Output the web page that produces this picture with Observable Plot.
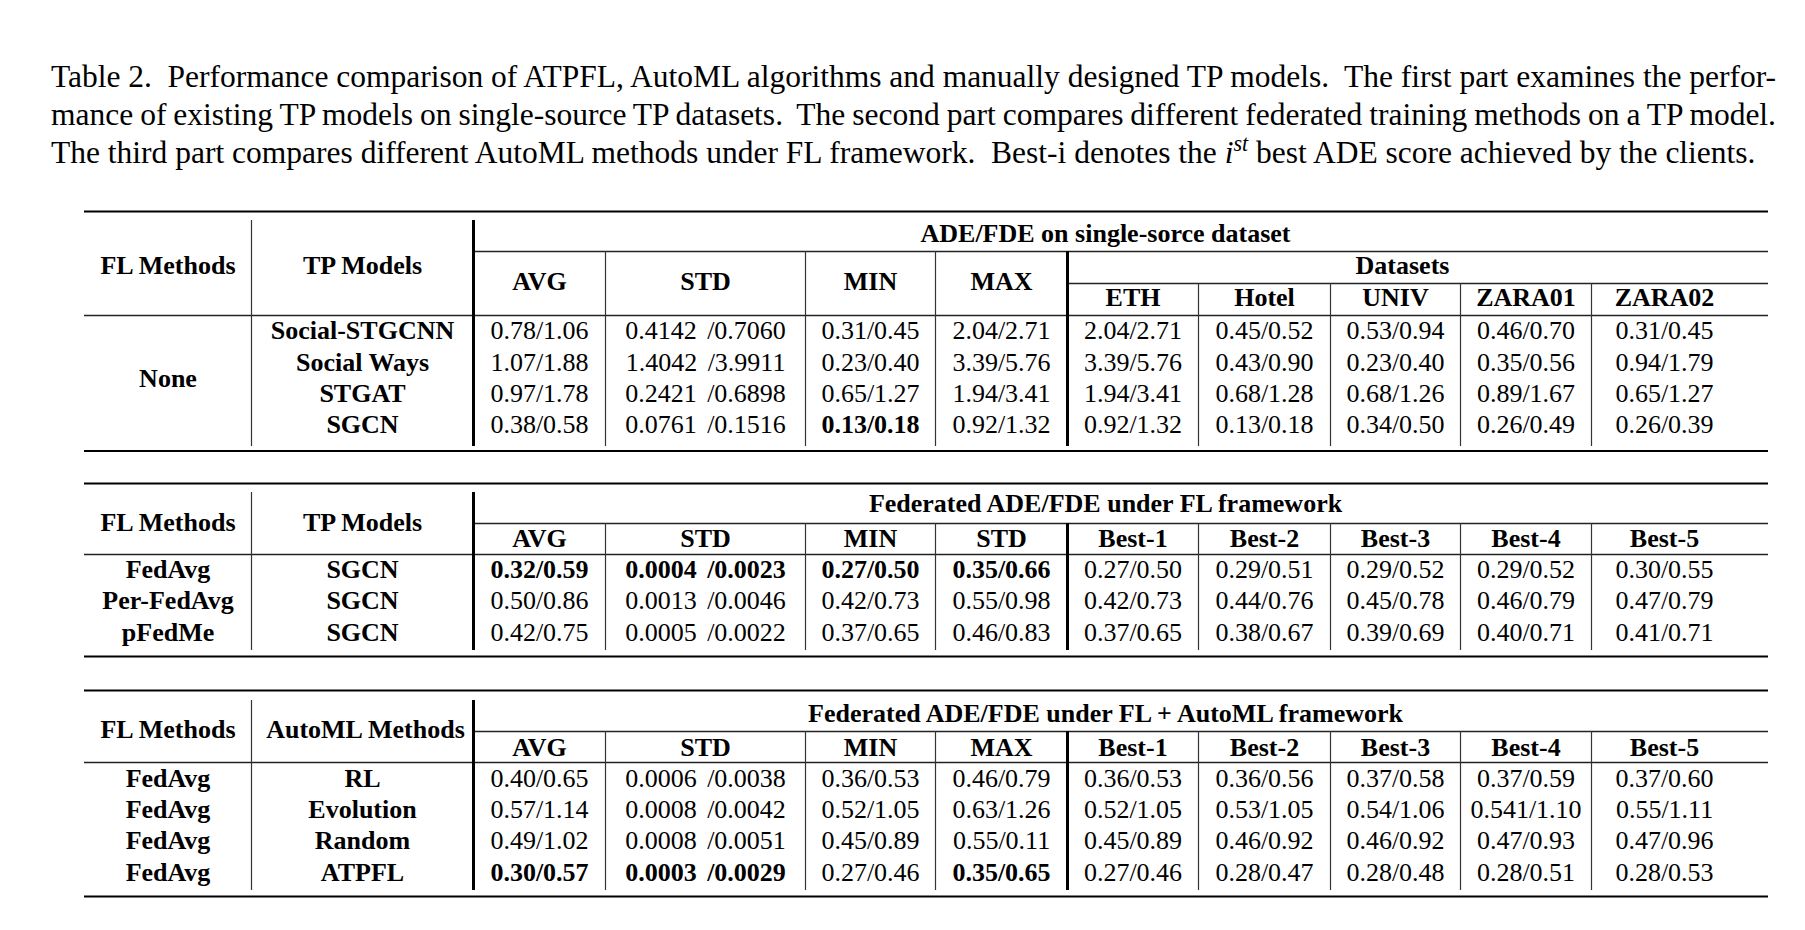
<!DOCTYPE html>
<html>
<head>
<meta charset="utf-8">
<script src="https://cdn.jsdelivr.net/npm/d3@7"></script>
<script src="https://cdn.jsdelivr.net/npm/@observablehq/plot@0.6"></script>
<style>
  html, body { margin: 0; padding: 0; background: #fff; }
  #caption { position: relative; height: 190px; font-family: "Liberation Serif", "Times New Roman", serif; font-size: 31.5px; line-height: 38px; color: #000; }
  #caption .box { position: absolute; left: 51px; top: 58px; width: 1725px; }
  #caption .line { white-space: nowrap; }
  #caption .j { text-align: justify; text-align-last: justify; word-spacing: -3px; white-space: normal; }
  #caption sup { font-size: 70%; line-height: 0; vertical-align: 0.55em; }
  #chart svg { display: block; }
</style>
</head>
<body>
<div id="caption"><div class="box"></div></div>
<div id="chart"></div>
<script>
// ---------- caption text ----------
const captionLines = [
  "Table 2.&nbsp; Performance comparison of ATPFL, AutoML algorithms and manually designed TP models.&nbsp; The first part examines the perfor-",
  "mance of existing TP models on single-source TP datasets.&nbsp; The second part compares different federated training methods on a TP model.",
  "The third part compares different AutoML methods under FL framework.&nbsp; Best-i denotes the <i>i</i><sup><i>st</i></sup> best ADE score achieved by the clients."
];

// ---------- table 1 data ----------
const t1Title = "ADE/FDE on single-sorce dataset";
const t1Method = "None";
const t1Models = ["Social-STGCNN", "Social Ways", "STGAT", "SGCN"];
const t1Columns = ["AVG", "STD", "MIN", "MAX", "ETH", "Hotel", "UNIV", "ZARA01", "ZARA02"];
const t1Group = "Datasets";
const t1Values = [
  ["0.78/1.06", "0.4142 /0.7060", "0.31/0.45", "2.04/2.71", "2.04/2.71", "0.45/0.52", "0.53/0.94", "0.46/0.70", "0.31/0.45"],
  ["1.07/1.88", "1.4042 /3.9911", "0.23/0.40", "3.39/5.76", "3.39/5.76", "0.43/0.90", "0.23/0.40", "0.35/0.56", "0.94/1.79"],
  ["0.97/1.78", "0.2421 /0.6898", "0.65/1.27", "1.94/3.41", "1.94/3.41", "0.68/1.28", "0.68/1.26", "0.89/1.67", "0.65/1.27"],
  ["0.38/0.58", "0.0761 /0.1516", "0.13/0.18", "0.92/1.32", "0.92/1.32", "0.13/0.18", "0.34/0.50", "0.26/0.49", "0.26/0.39"]
];
const t1Bold = [[3, 2]];

// ---------- table 2 data ----------
const t2Title = "Federated ADE/FDE under FL framework";
const t2Methods = ["FedAvg", "Per-FedAvg", "pFedMe"];
const t2Models = ["SGCN", "SGCN", "SGCN"];
const t2Columns = ["AVG", "STD", "MIN", "STD", "Best-1", "Best-2", "Best-3", "Best-4", "Best-5"];
const t2Values = [
  ["0.32/0.59", "0.0004 /0.0023", "0.27/0.50", "0.35/0.66", "0.27/0.50", "0.29/0.51", "0.29/0.52", "0.29/0.52", "0.30/0.55"],
  ["0.50/0.86", "0.0013 /0.0046", "0.42/0.73", "0.55/0.98", "0.42/0.73", "0.44/0.76", "0.45/0.78", "0.46/0.79", "0.47/0.79"],
  ["0.42/0.75", "0.0005 /0.0022", "0.37/0.65", "0.46/0.83", "0.37/0.65", "0.38/0.67", "0.39/0.69", "0.40/0.71", "0.41/0.71"]
];
const t2Bold = [[0, 0], [0, 1], [0, 2], [0, 3]];

// ---------- table 3 data ----------
const t3Title = "Federated ADE/FDE under FL + AutoML framework";
const t3Methods = ["FedAvg", "FedAvg", "FedAvg", "FedAvg"];
const t3AutoML = ["RL", "Evolution", "Random", "ATPFL"];
const t3Columns = ["AVG", "STD", "MIN", "MAX", "Best-1", "Best-2", "Best-3", "Best-4", "Best-5"];
const t3Values = [
  ["0.40/0.65", "0.0006 /0.0038", "0.36/0.53", "0.46/0.79", "0.36/0.53", "0.36/0.56", "0.37/0.58", "0.37/0.59", "0.37/0.60"],
  ["0.57/1.14", "0.0008 /0.0042", "0.52/1.05", "0.63/1.26", "0.52/1.05", "0.53/1.05", "0.54/1.06", "0.541/1.10", "0.55/1.11"],
  ["0.49/1.02", "0.0008 /0.0051", "0.45/0.89", "0.55/0.11", "0.45/0.89", "0.46/0.92", "0.46/0.92", "0.47/0.93", "0.47/0.96"],
  ["0.30/0.57", "0.0003 /0.0029", "0.27/0.46", "0.35/0.65", "0.27/0.46", "0.28/0.47", "0.28/0.48", "0.28/0.51", "0.28/0.53"]
];
const t3Bold = [[3, 0], [3, 1], [3, 3]];

// ---------- layout (table units) ----------
const colWidths = [167, 222, 132, 200, 130, 132, 131, 132, 130, 131, 146];
const tailPad = 31;
const edges = [0];
colWidths.forEach(w => edges.push(edges[edges.length - 1] + w));
const tableW = edges[edges.length - 1];
const ruleW = tableW + tailPad;
const cx = k => (edges[k] + edges[k + 1]) / 2;
const spanC = (a, b) => (edges[a] + edges[b]) / 2;

const L = [
  {top: 21, title: 43, cmid: 61, hdrA: 75, hdrB: 91, sub: 107, subRule: 93, mid: 125, row0: 140.5, step: 31.2, bottom: 260.5, vTop: 30, vBot: 256, span: 188},
  {top: 293, title: 313, cmid: 333, hdrA: 332, hdrB: 348, mid: 364, row0: 379, step: 31.5, bottom: 466, vTop: 302, vBot: 460},
  {top: 500, title: 523, cmid: 541, hdrA: 539, hdrB: 557, mid: 572, row0: 588, step: 31.3, bottom: 706, vTop: 510, vBot: 700}
];

// ---------- build cell lists ----------
const boldLabels = [];
const numsReg = [];
const numsBold = [];
const thickH = [], midH = [], cmidH = [], thinV = [], thickV = [];

function addTable(li, title, hdrLeft, hdrMid, columns, leftCol, midCol, values, bolds, isFirst) {
  const l = L[li];
  const rowY = i => l.row0 + i * l.step;
  boldLabels.push({x: spanC(2, 11), y: l.title, text: title});
  boldLabels.push({x: cx(0), y: l.hdrA, text: hdrLeft});
  boldLabels.push({x: cx(1) + (hdrMid.length > 10 ? 3 : 0), y: l.hdrA, text: hdrMid});
  columns.forEach((c, j) => {
    const y = (isFirst && j >= 4) ? l.sub : l.hdrB;
    boldLabels.push({x: cx(j + 2), y, text: c});
  });
  if (isFirst) {
    boldLabels.push({x: spanC(6, 11), y: l.hdrA, text: t1Group});
    boldLabels.push({x: cx(0), y: l.span, text: leftCol});
  } else {
    leftCol.forEach((m, i) => boldLabels.push({x: cx(0), y: rowY(i), text: m}));
  }
  midCol.forEach((m, i) => boldLabels.push({x: cx(1), y: rowY(i), text: m}));
  values.forEach((row, i) => row.forEach((v, j) => {
    const isB = bolds.some(([r, c]) => r === i && c === j);
    (isB ? numsBold : numsReg).push({x: cx(j + 2), y: rowY(i), text: v});
  }));
  thickH.push({y: l.top, x1: 0, x2: ruleW}, {y: l.bottom, x1: 0, x2: ruleW});
  midH.push({y: l.mid, x1: 0, x2: ruleW});
  cmidH.push({y: l.cmid, x1: edges[2], x2: ruleW});
  if (isFirst) cmidH.push({y: l.subRule, x1: edges[6], x2: ruleW});
  thinV.push({x: edges[1], y1: l.vTop, y2: l.vBot});
  thickV.push({x: edges[2], y1: l.vTop, y2: l.vBot});
  [3, 4, 5].forEach(k => thinV.push({x: edges[k], y1: l.cmid, y2: l.vBot}));
  thickV.push({x: edges[6], y1: l.cmid, y2: l.vBot});
  [7, 8, 9, 10].forEach(k => thinV.push({x: edges[k], y1: isFirst ? l.subRule : l.cmid, y2: l.vBot}));
}

addTable(0, t1Title, "FL Methods", "TP Models", t1Columns, t1Method, t1Models, t1Values, t1Bold, true);
addTable(1, t2Title, "FL Methods", "TP Models", t2Columns, t2Methods, t2Models, t2Values, t2Bold, false);
addTable(2, t3Title, "FL Methods", "AutoML Methods", t3Columns, t3Methods, t3AutoML, t3Values, t3Bold, false);

// ---------- caption ----------
const box = document.querySelector("#caption .box");
captionLines.forEach((t, i) => {
  const d = document.createElement("div");
  d.className = i < 2 ? "line j" : "line";
  d.innerHTML = t;
  box.appendChild(d);
});

// ---------- plot ----------
const font = "'Liberation Serif', 'Times New Roman', serif";
const chart = Plot.plot({
  width: 1805,
  height: 740,
  margin: 0,
  x: {domain: [0, ruleW], range: [84, 84 + ruleW], axis: null},
  y: {domain: [0, 740], range: [0, 740], axis: null},
  style: {fontFamily: font, background: "white", color: "black"},
  marks: [
    Plot.ruleY(thickH, {y: "y", x1: "x1", x2: "x2", stroke: "black", strokeWidth: 2.2}),
    Plot.ruleY(midH, {y: "y", x1: "x1", x2: "x2", stroke: "#222", strokeWidth: 1.4}),
    Plot.ruleY(cmidH, {y: "y", x1: "x1", x2: "x2", stroke: "#222", strokeWidth: 1.3}),
    Plot.ruleX(thinV, {x: "x", y1: "y1", y2: "y2", stroke: "#333", strokeWidth: 1.2}),
    Plot.ruleX(thickV, {x: "x", y1: "y1", y2: "y2", stroke: "black", strokeWidth: 3}),
    Plot.text(boldLabels, {x: "x", y: "y", text: "text", fill: "black", fontSize: 26, fontWeight: "bold", fontFamily: font, lineAnchor: "middle"}),
    Plot.text(numsReg, {x: "x", y: "y", text: "text", fill: "black", fontSize: 26, fontFamily: font, lineAnchor: "middle"}),
    Plot.text(numsBold, {x: "x", y: "y", text: "text", fill: "black", fontSize: 26, fontWeight: "bold", fontFamily: font, lineAnchor: "middle"})
  ]
});
d3.select(chart).selectAll("text")
  .filter(function() { return /\d \//.test(this.textContent); })
  .style("word-spacing", "4px");
document.getElementById("chart").appendChild(chart);
</script>
</body>
</html>
